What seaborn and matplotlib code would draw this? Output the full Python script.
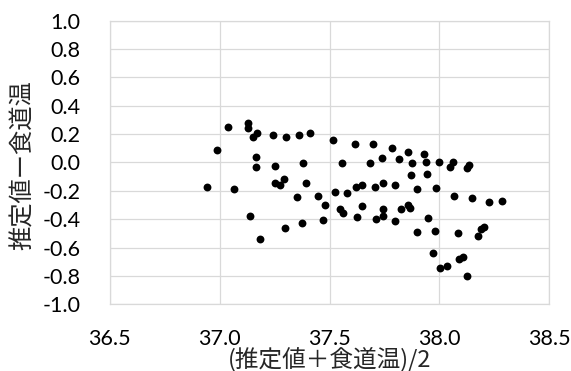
import matplotlib
matplotlib.use("Agg")
import matplotlib.pyplot as plt
import matplotlib.ticker as mticker
import pandas as pd
import seaborn as sns

# data (mean of the two readings, difference)
mean_temp = [36.943, 36.988, 37.039, 37.067, 37.129, 37.129, 37.138, 37.152, 37.172, 37.167,
             37.165, 37.185, 37.241, 37.250, 37.250, 37.274, 37.294, 37.296, 37.304, 37.359,
             37.354, 37.377, 37.374, 37.394, 37.412, 37.449, 37.480, 37.470, 37.517, 37.525,
             37.558, 37.546, 37.561, 37.581, 37.616, 37.619, 37.627, 37.649, 37.646, 37.682,
             37.696, 37.708, 37.712, 37.737, 37.742, 37.745, 37.744, 37.784, 37.800, 37.797,
             37.815, 37.823, 37.856, 37.859, 37.866, 37.871, 37.876, 37.898, 37.896, 37.930,
             37.937, 37.944, 37.950, 37.983, 37.978, 37.973, 38.000, 38.004, 38.036, 38.047,
             38.063, 38.068, 38.083, 38.090, 38.108, 38.124, 38.136, 38.124, 38.147, 38.175,
             38.191, 38.204, 38.224, 38.283]
diff_temp = [-0.175, 0.088, 0.253, -0.184, 0.281, 0.241, -0.375, 0.182, 0.210, 0.036,
             -0.032, -0.539, 0.194, -0.022, -0.142, -0.161, -0.114, -0.464, 0.180, 0.194,
             -0.243, -0.001, -0.424, -0.147, 0.206, -0.239, -0.300, -0.403, 0.159, -0.206,
             -0.001, -0.330, -0.354, -0.213, 0.130, -0.175, -0.382, -0.159, -0.307, -0.001,
             0.130, -0.175, -0.396, 0.032, -0.325, -0.142, -0.377, 0.102, -0.156, -0.415,
             0.022, -0.328, 0.076, -0.303, -0.321, -0.091, -0.006, -0.189, -0.488, 0.060,
             0.004, -0.081, -0.389, -0.182, -0.485, -0.640, 0.004, -0.746, -0.727, -0.029,
             0.001, -0.236, -0.499, -0.680, -0.668, -0.041, -0.015, -0.798, -0.248, -0.518,
             -0.471, -0.457, -0.276, -0.269]

x_ticks = [36.5, 37.0, 37.5, 38.0, 38.5]
y_ticks = [-1.0, -0.8, -0.6, -0.4, -0.2, 0.0, 0.2, 0.4, 0.6, 0.8, 1.0]

df = pd.DataFrame({'x': mean_temp, 'y': diff_temp})

sns.set_style("white")
plt.rcParams['font.family'] = ['Lato', 'Noto Sans CJK JP', 'DejaVu Sans']
plt.rcParams['axes.unicode_minus'] = False

grid_col = '#d9d9d9'

fig = plt.figure(figsize=(5.71, 3.71), dpi=100)
ax = fig.add_axes([0.1923, 0.1798, 0.7697, 0.7644])

sns.scatterplot(data=df, x='x', y='y', color='black', s=32, linewidth=0, ax=ax, zorder=3)

ax.set_xlim(36.5, 38.5)
ax.set_ylim(-1.0, 1.0)
ax.set_xticks(x_ticks)
ax.set_yticks(y_ticks)
ax.xaxis.set_major_formatter(mticker.FormatStrFormatter('%.1f'))
ax.yaxis.set_major_formatter(mticker.FormatStrFormatter('%.1f'))

ax.grid(True, color=grid_col, linewidth=0.9)
for sp in ax.spines.values():
    sp.set_color(grid_col)
    sp.set_linewidth(0.9)
ax.tick_params(axis='both', which='major', direction='out', length=6, width=0.9,
               color=grid_col, labelsize=15.5, labelcolor='black')
ax.tick_params(axis='y', pad=15)
ax.tick_params(axis='x', pad=12)

ax.set_xlabel('(推定値＋食道温)/2', fontsize=17, family=['Noto Sans CJK JP', 'DejaVu Sans'], va='center')
ax.set_ylabel('推定値ー食道温', fontsize=17.5, family=['Noto Sans CJK JP', 'DejaVu Sans'], va='center')
ax.xaxis.set_label_coords(0.5, -0.195)
ax.yaxis.set_label_coords(-0.198, 0.491)

fig.savefig('out.png', dpi=100)
